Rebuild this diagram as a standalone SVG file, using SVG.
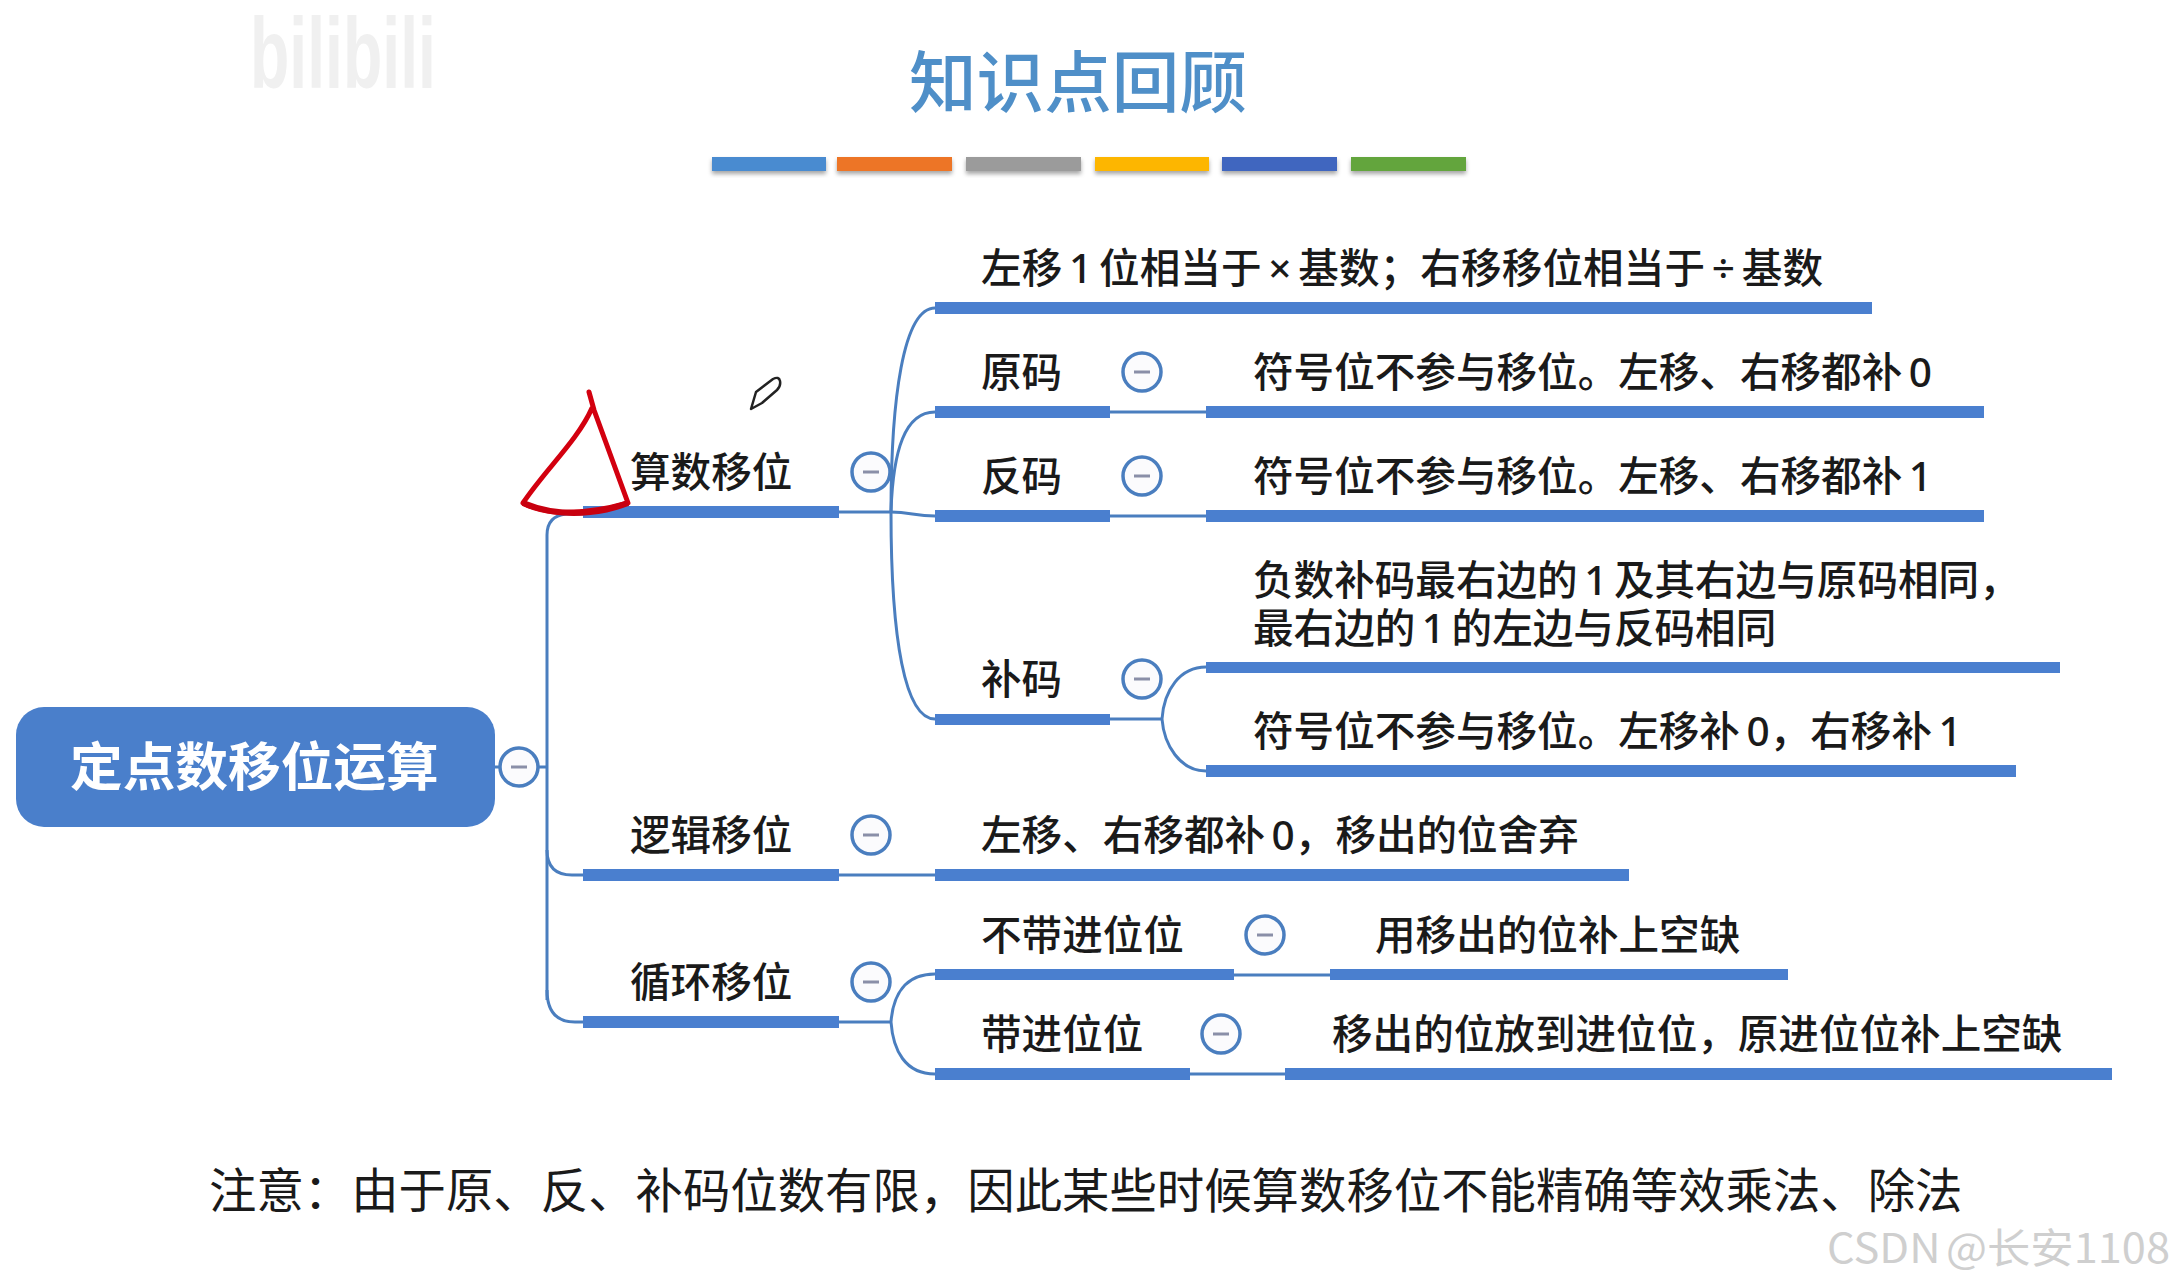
<svg xmlns="http://www.w3.org/2000/svg" width="2176" height="1286" viewBox="0 0 2176 1286">
<style>
text{font-family:"Noto Sans","Noto Sans CJK SC",sans-serif;fill:#1a1a1a;font-size:40.6px;font-weight:500;word-spacing:-4px}
.bar{fill:#4a7fcf}
.ln{fill:none;stroke:#4a7ebf;stroke-width:3}
.tg circle{fill:#fbfbfd;stroke:#4a7ebf;stroke-width:3.5}
.tg rect{fill:#8a8fa8}
.cb{filter:url(#sh)}
</style>
<defs>
<filter id="sh" x="-10%" y="-50%" width="120%" height="200%"><feDropShadow dx="0" dy="3" stdDeviation="2" flood-color="#000" flood-opacity=".35"/></filter>
<g id="tog" class="tg"><circle r="19"/><rect x="-8" y="-1.5" width="16" height="3"/></g>
</defs>
<rect width="2176" height="1286" fill="#fff"/>
<text x="250" y="88" style="font-family:'Liberation Sans',sans-serif;font-size:100px;font-weight:700;fill:#f0f0f0" textLength="186" lengthAdjust="spacingAndGlyphs">bilibili</text>
<g id="title"><text x="909" y="107" style="font-family:'Noto Sans CJK SC',sans-serif;font-size:67.6px;font-weight:500;fill:#4f8fc8">知识点回顾</text></g>
<g id="color-bars">
<rect class="cb" x="712" y="157" width="114" height="14" fill="#4a8bd0"/>
<rect class="cb" x="837" y="157" width="115" height="14" fill="#ed7427"/>
<rect class="cb" x="966" y="157" width="115" height="14" fill="#9b9b9b"/>
<rect class="cb" x="1095" y="157" width="114" height="14" fill="#fdb604"/>
<rect class="cb" x="1222" y="157" width="115" height="14" fill="#3f66bf"/>
<rect class="cb" x="1351" y="157" width="115" height="14" fill="#63a53e"/>
</g>
<g id="connectors">
<path class="ln" d="M495 767H547"/>
<path class="ln" d="M547 1000V535Q547 516 566 514H583"/>
<path class="ln" d="M547 850Q547 875 572 875H583"/>
<path class="ln" d="M547 990Q547 1022 575 1022H583"/>
<path class="ln" d="M839 512H891"/>
<path class="ln" d="M891 512C891 400 903 308 935 308"/>
<path class="ln" d="M891 512C893 450 905 412 935 412"/>
<path class="ln" d="M891 512C910 512 915 516 935 516"/>
<path class="ln" d="M891 512C891 640 905 719 935 719"/>
<path class="ln" d="M1110 412H1206M1110 516H1206"/>
<path class="ln" d="M1110 719H1162"/>
<path class="ln" d="M1162 719C1164 690 1180 667 1206 667"/>
<path class="ln" d="M1162 719C1164 745 1180 771 1206 771"/>
<path class="ln" d="M839 875H935"/>
<path class="ln" d="M839 1022H891"/>
<path class="ln" d="M891 1022C893 995 905 974 935 974"/>
<path class="ln" d="M891 1022C893 1050 905 1074 935 1074"/>
<path class="ln" d="M1234 975H1330M1190 1074H1285"/>
</g>
<g id="root"><rect x="16" y="707" width="479" height="120" rx="28" fill="#4a7fcb"/><text x="70" y="786" style="font-size:52.7px;font-weight:700;fill:#fff">定点数移位运算</text><use href="#tog" x="519" y="767"/></g>
<g id="n-suanshu"><rect class="bar" x="583" y="506" width="256" height="12"/><text x="630" y="487">算数移位</text><use href="#tog" x="871" y="472"/></g>
<g id="n-luoji"><rect class="bar" x="583" y="869" width="256" height="12"/><text x="630" y="850">逻辑移位</text><use href="#tog" x="871" y="835"/></g>
<g id="n-xunhuan"><rect class="bar" x="583" y="1016" width="256" height="12"/><text x="630" y="997">循环移位</text><use href="#tog" x="871" y="982"/></g>
<g id="n-rule"><rect class="bar" x="935" y="302" width="937" height="12"/><text x="981" y="283" textLength="842">左移 1 位相当于 × 基数；右移移位相当于 ÷ 基数</text></g>
<g id="n-yuanma"><rect class="bar" x="935" y="406" width="175" height="12"/><text x="981" y="387">原码</text><use href="#tog" x="1142" y="372"/></g>
<g id="n-yuanma-c"><rect class="bar" x="1206" y="406" width="778" height="12"/><text x="1253" y="387">符号位不参与移位。左移、右移都补 0</text></g>
<g id="n-fanma"><rect class="bar" x="935" y="510" width="175" height="12"/><text x="981" y="491">反码</text><use href="#tog" x="1142" y="476"/></g>
<g id="n-fanma-c"><rect class="bar" x="1206" y="510" width="778" height="12"/><text x="1253" y="491">符号位不参与移位。左移、右移都补 1</text></g>
<g id="n-buma"><rect class="bar" x="935" y="714" width="175" height="11"/><text x="981" y="694">补码</text><use href="#tog" x="1142" y="679"/></g>
<g id="n-buma-c1"><rect class="bar" x="1206" y="662" width="854" height="11"/><text y="595"><tspan x="1253">负数补码最右边的 1 及其右边与原码相同，</tspan><tspan x="1253" dy="48">最右边的 1 的左边与反码相同</tspan></text></g>
<g id="n-buma-c2"><rect class="bar" x="1206" y="765" width="810" height="12"/><text x="1253" y="746">符号位不参与移位。左移补 0，右移补 1</text></g>
<g id="n-luoji-c"><rect class="bar" x="935" y="869" width="694" height="12"/><text x="981" y="850">左移、右移都补 0，移出的位舍弃</text></g>
<g id="n-budai"><rect class="bar" x="935" y="969" width="299" height="11"/><text x="981" y="950">不带进位位</text><use href="#tog" x="1265" y="935"/></g>
<g id="n-budai-c"><rect class="bar" x="1330" y="969" width="458" height="11"/><text x="1375" y="950">用移出的位补上空缺</text></g>
<g id="n-dai"><rect class="bar" x="935" y="1068" width="255" height="12"/><text x="981" y="1049">带进位位</text><use href="#tog" x="1221" y="1034"/></g>
<g id="n-dai-c"><rect class="bar" x="1285" y="1068" width="827" height="12"/><text x="1332" y="1049">移出的位放到进位位，原进位位补上空缺</text></g>
<g id="note"><text x="209" y="1208" style="font-size:47.4px;font-weight:400">注意：由于原、反、补码位数有限，因此某些时候算数移位不能精确等效乘法、除法</text></g>
<g id="annotation">
<path d="M589 392L594 410L628 503Q590 514 555 512Q535 510 523 503C545 470 578 440 592 408" fill="none" stroke="#d3000f" stroke-width="5" stroke-linejoin="round" stroke-linecap="round"/>
<path d="M523 503Q555 516 590 512Q610 510 628 503" fill="none" stroke="#c8000f" stroke-width="6"/>
<path d="M751 409L756 392L773 379Q779 376 780 381Q781 386 777 390L762 403Z" fill="#fff" stroke="#222" stroke-width="2.5" stroke-linejoin="round"/>
</g>
<text x="1827" y="1263" style="font-family:'Noto Sans CJK SC','DejaVu Sans',sans-serif;font-weight:400;fill:#cfcfcf" textLength="343" lengthAdjust="spacingAndGlyphs">CSDN @长安1108</text>
</svg>
